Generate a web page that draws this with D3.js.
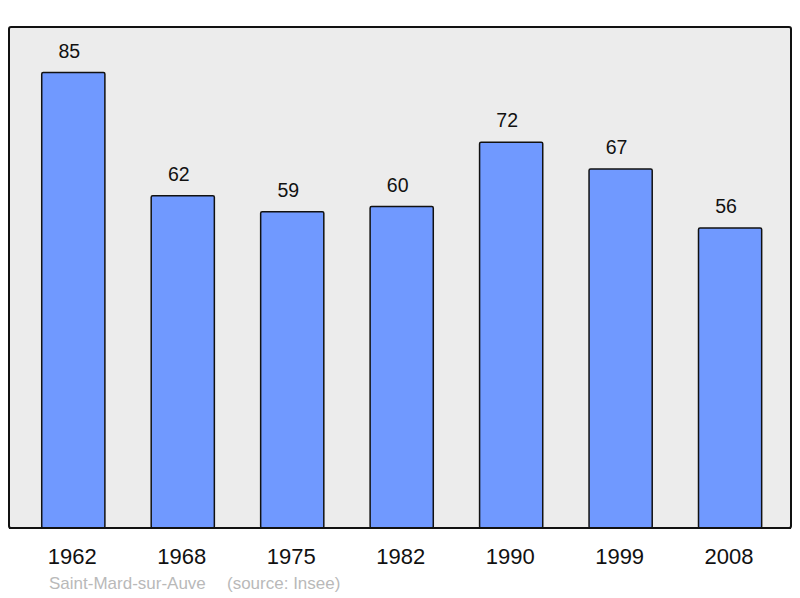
<!DOCTYPE html>
<html><head><meta charset="utf-8">
<script src="https://cdn.jsdelivr.net/npm/d3@7"></script>
<style>body{margin:0;background:#fff}svg{display:block}</style>
</head><body>
<svg id="c" width="800" height="598"></svg>
<script>
const years = ["1962","1968","1975","1982","1990","1999","2008"];
const population = [85,62,59,60,72,67,56];
const placeName = "Saint-Mard-sur-Auve";
const sourceNote = "(source: Insee)";

const svg = d3.select("#c");
const frame = {x0: 9, y0: 27, x1: 791, y1: 528};
const font = "'Liberation Sans', Arial, sans-serif";

svg.append("rect")
  .attr("x", frame.x0).attr("y", frame.y0)
  .attr("width", frame.x1 - frame.x0).attr("height", frame.y1 - frame.y0)
  .attr("rx", 2).attr("fill", "#ececec").attr("stroke", "#111").attr("stroke-width", 2);

const x = d3.scaleBand().domain(years).range([9, 794.4]).paddingInner(0.423).paddingOuter(0.299);
const y = d3.scaleLinear().domain([0, d3.max(population) * 1.1]).range([frame.y1, frame.y0]);

const data = years.map((yr, i) => ({yr, v: population[i]}));

svg.append("g").selectAll("rect").data(data).join("rect")
  .attr("x", d => x(d.yr)).attr("y", d => y(d.v))
  .attr("width", x.bandwidth()).attr("height", d => y(0) - y(d.v))
  .attr("rx", 1.5)
  .attr("fill", "#7099ff").attr("stroke", "#111").attr("stroke-width", 1.5);

svg.append("line").attr("x1", frame.x0).attr("x2", frame.x1).attr("y1", frame.y1).attr("y2", frame.y1)
  .attr("stroke", "#111").attr("stroke-width", 2);

svg.append("g").selectAll("text").data(data).join("text")
  .attr("x", d => x(d.yr) + x.bandwidth() / 2 - 4).attr("y", d => y(d.v) - 15)
  .attr("text-anchor", "middle").attr("font-family", font).attr("font-size", 19.5)
  .attr("fill", "#111").text(d => d.v);

const xAxis = d3.axisBottom(x).tickSize(0).tickPadding(0);
const gx = svg.append("g").attr("transform", `translate(-1,${frame.y1})`).call(xAxis);
gx.select(".domain").remove();
gx.selectAll("text").attr("font-family", font).attr("font-size", 22).attr("fill", "#111")
  .attr("dy", null).attr("y", 36);

svg.append("text").attr("x", 49).attr("y", 589).attr("font-family", font).attr("font-size", 17)
  .attr("fill", "#b9b9b9").text(placeName);
svg.append("text").attr("x", 227).attr("y", 589).attr("font-family", font).attr("font-size", 17)
  .attr("fill", "#b9b9b9").text(sourceNote);
</script>
</body></html>
